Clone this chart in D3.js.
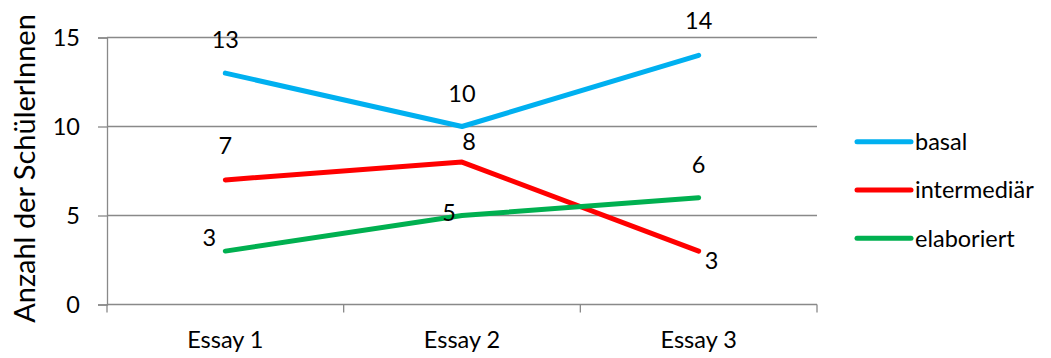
<!DOCTYPE html>
<html><head><meta charset="utf-8">
<script src="https://cdn.jsdelivr.net/npm/d3@7/dist/d3.min.js"></script>
<style>body{margin:0;background:#fff;} text{font-family:Lato, "Open Sans", sans-serif;fill:#000;}</style>
</head><body>
<svg id="c" width="1051" height="358"></svg>
<script>
const categories = ["Essay 1", "Essay 2", "Essay 3"];
const seriesNames = ["basal", "intermediär", "elaboriert"];
const basal = [13, 10, 14];
const intermediaer = [7, 8, 3];
const elaboriert = [3, 5, 6];
const yTicks = [0, 5, 10, 15];
const yTitle = "Anzahl der SchülerInnen";

(function () {
const colors = ["#00B0F0", "#FF0000", "#00B050"];
const seriesValues = [basal, intermediaer, elaboriert];
const fs = "23.5px";
// label offsets (dx, dy) relative to points, as placed in the original
const labelOffsets = [
  [[0,-33],[0,-33],[0,-35]],
  [[0,-34],[7,-20],[13,10]],
  [[-16,-13],[-13,-3],[0,-33]]
];

const svg = d3.select("#c");
const pLeft = 107, pRight = 817, pTop = 37.5, pBottom = 304.5;
const x = d3.scaleBand().domain(categories).range([pLeft, pRight]);
const y = d3.scaleLinear().domain([0, 15]).range([pBottom, pTop]);
const axisColor = "#898989";

svg.append("g").selectAll("line").data(yTicks.filter(d => d > 0)).join("line")
  .attr("x1", pLeft).attr("x2", pRight).attr("y1", d => y(d)).attr("y2", d => y(d))
  .attr("stroke", axisColor).attr("stroke-width", 1.3);

const yAxis = svg.append("g").attr("transform", `translate(${pLeft},0)`)
  .call(d3.axisLeft(y).tickValues(yTicks).tickSize(9).tickPadding(18));
yAxis.select(".domain").attr("stroke", axisColor).attr("stroke-width", 1.3);
yAxis.selectAll(".tick line").attr("stroke", axisColor).attr("stroke-width", 1.3);
yAxis.selectAll(".tick text").style("font-size", fs).attr("fill", "#000");

const xAxis = svg.append("g").attr("transform", `translate(0,${pBottom})`)
  .call(d3.axisBottom(x).tickSize(0).tickPadding(0));
xAxis.select(".domain").remove();
xAxis.append("line").attr("x1", pLeft).attr("x2", pRight).attr("stroke", axisColor).attr("stroke-width", 1.3);
xAxis.selectAll(".xt").data(d3.range(categories.length + 1)).join("line").attr("class", "xt")
  .attr("x1", i => pLeft + i * x.step()).attr("x2", i => pLeft + i * x.step())
  .attr("y1", 0).attr("y2", 8).attr("stroke", axisColor).attr("stroke-width", 1.3);
xAxis.selectAll(".tick text").style("font-size", fs).attr("fill", "#000").attr("y", 43.5).attr("dy", 0);

svg.append("text").attr("transform", `translate(35,${(12+325)/2}) rotate(-90)`)
  .attr("text-anchor", "middle").style("font-size", "29px").text(yTitle);

const line = d3.line().x((d, i) => x(categories[i]) + x.bandwidth() / 2).y(d => y(d));
seriesValues.forEach((vals, s) => {
  svg.append("path").datum(vals).attr("d", line).attr("fill", "none")
    .attr("stroke", colors[s]).attr("stroke-width", 5).attr("stroke-linecap", "round").attr("stroke-linejoin", "round");
});

seriesValues.forEach((vals, s) => {
  svg.append("g").selectAll("text").data(vals).join("text")
    .attr("x", (d, i) => x(categories[i]) + x.bandwidth() / 2 + labelOffsets[s][i][0])
    .attr("y", (d, i) => y(d) + labelOffsets[s][i][1])
    .attr("dy", "0.35em").attr("text-anchor", "middle").style("font-size", fs).text(d => d);
});

const lg = svg.append("g");
seriesNames.forEach((n, s) => {
  const ly = 141.7 + s * 48.3;
  lg.append("line").attr("x1", 857).attr("x2", 911).attr("y1", ly).attr("y2", ly)
    .attr("stroke", colors[s]).attr("stroke-width", 5).attr("stroke-linecap", "round");
  lg.append("text").attr("x", 915).attr("y", ly).attr("dy", "0.35em").style("font-size", fs).text(n);
});
})();
</script>
</body></html>
